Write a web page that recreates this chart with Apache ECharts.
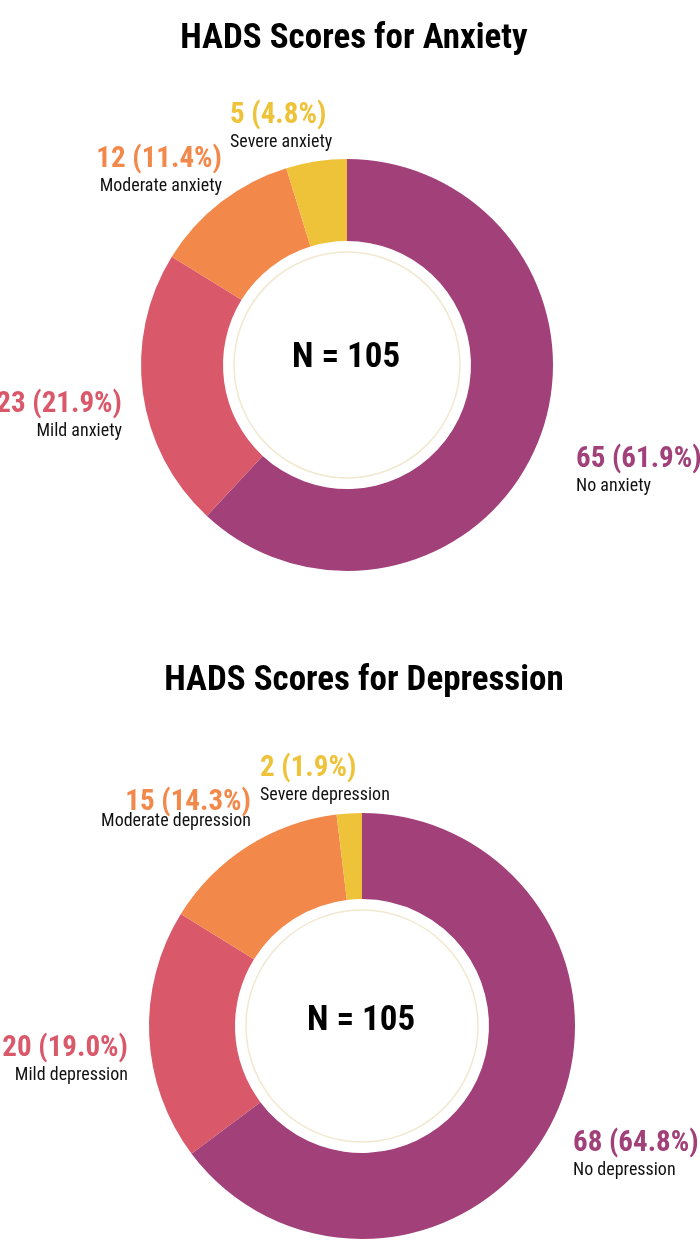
<!DOCTYPE html>
<html>
<head>
<meta charset="utf-8">
<script src="https://cdn.jsdelivr.net/npm/echarts@6/dist/echarts.min.js"></script>
<style>
html,body{margin:0;padding:0;background:#fff;}
#c{width:700px;height:1241px;}
</style>
</head>
<body>
<div id="c"></div>
<script>
// ---- data ----
var anxietyCategories = ['No anxiety', 'Mild anxiety', 'Moderate anxiety', 'Severe anxiety'];
var anxietyValues = [65, 23, 12, 5];
var depressionCategories = ['No depression', 'Mild depression', 'Moderate depression', 'Severe depression'];
var depressionValues = [68, 20, 15, 2];
var titles = ['HADS Scores for Anxiety', 'HADS Scores for Depression'];

// ---- style / layout ----
var colors = ['#A14079', '#D9596B', '#F3884B', '#EEC33A'];
var FONT = '"Roboto Condensed", "DejaVu Sans Condensed", sans-serif';
// label anchors: [x, top, align, tight]
var anxietyLabelPos = [[576, 445, 'left', 0], [122, 390, 'right', 0], [222, 145, 'right', 0], [230, 101, 'left', 0]];
var depressionLabelPos = [[573, 1129, 'left', 0], [128, 1034, 'right', 0], [251, 792, 'right', 1], [260, 754, 'left', 0]];
var labelPos = [anxietyLabelPos, depressionLabelPos];

function sum(a){ return a.reduce(function(s, v){ return s + v; }, 0); }

function withTotal(cats, vals){
  var t = sum(vals);
  return cats.map(function(c, i){ return { name: c, value: vals[i], total: t }; });
}

var rich = {
  n: { fontFamily: FONT, fontSize: 18, lineHeight: 22, color: '#111' },
  nt: { fontFamily: FONT, fontSize: 18, lineHeight: 15, color: '#111' }
};
colors.forEach(function(c, i){
  rich['v' + i] = { fontFamily: FONT, fontWeight: 'bold', fontSize: 29, lineHeight: 30, color: c };
  rich['vt' + i] = { fontFamily: FONT, fontWeight: 'bold', fontSize: 29, lineHeight: 22, color: c };
});

var labelOpt = {
  show: true,
  position: 'outside',
  formatter: function(p){
    var pct = (p.value / p.data.total * 100).toFixed(1);
    var tight = labelPos[p.seriesIndex][p.dataIndex][3];
    return '{' + (tight ? 'vt' : 'v') + p.dataIndex + '|' + p.value + ' (' + pct + '%)}\n{' + (tight ? 'nt' : 'n') + '|' + p.name + '}';
  },
  rich: rich
};

function pieSeries(idx, cats, vals, center, radius){
  return {
    type: 'pie',
    center: center,
    radius: radius,
    startAngle: 90,
    clockwise: true,
    avoidLabelOverlap: false,
    silent: true,
    color: colors,
    label: labelOpt,
    labelLine: { show: false },
    labelLayout: function(p){
      var pos = labelPos[idx][p.dataIndex];
      return { x: pos[0], y: pos[1], align: pos[2], verticalAlign: 'top', moveOverlap: false };
    },
    itemStyle: { borderWidth: 0 },
    data: withTotal(cats, vals)
  };
}

var chart = echarts.init(document.getElementById('c'), null, { renderer: 'canvas' });
chart.setOption({
  animation: false,
  backgroundColor: '#fff',
  series: [
    pieSeries(0, anxietyCategories, anxietyValues, [347, 365], [124, 206]),
    pieSeries(1, depressionCategories, depressionValues, [362, 1026], [127, 213])
  ],
  graphic: [
    { type: 'text', x: 354, y: 39, style: { text: titles[0], font: 'bold 35px ' + FONT, fill: '#000', align: 'center', verticalAlign: 'middle' } },
    { type: 'text', x: 364, y: 681, style: { text: titles[1], font: 'bold 35px ' + FONT, fill: '#000', align: 'center', verticalAlign: 'middle' } },
    { type: 'circle', shape: { cx: 347, cy: 365, r: 113 }, style: { fill: 'none', stroke: '#F1E8CF', lineWidth: 1.5 } },
    { type: 'circle', shape: { cx: 362, cy: 1026, r: 116 }, style: { fill: 'none', stroke: '#F1E8CF', lineWidth: 1.5 } },
    { type: 'text', x: 346, y: 358, style: { text: 'N = ' + sum(anxietyValues), font: 'bold 35px ' + FONT, fill: '#000', align: 'center', verticalAlign: 'middle' } },
    { type: 'text', x: 361, y: 1021, style: { text: 'N = ' + sum(depressionValues), font: 'bold 35px ' + FONT, fill: '#000', align: 'center', verticalAlign: 'middle' } }
  ]
});
</script>
</body>
</html>
